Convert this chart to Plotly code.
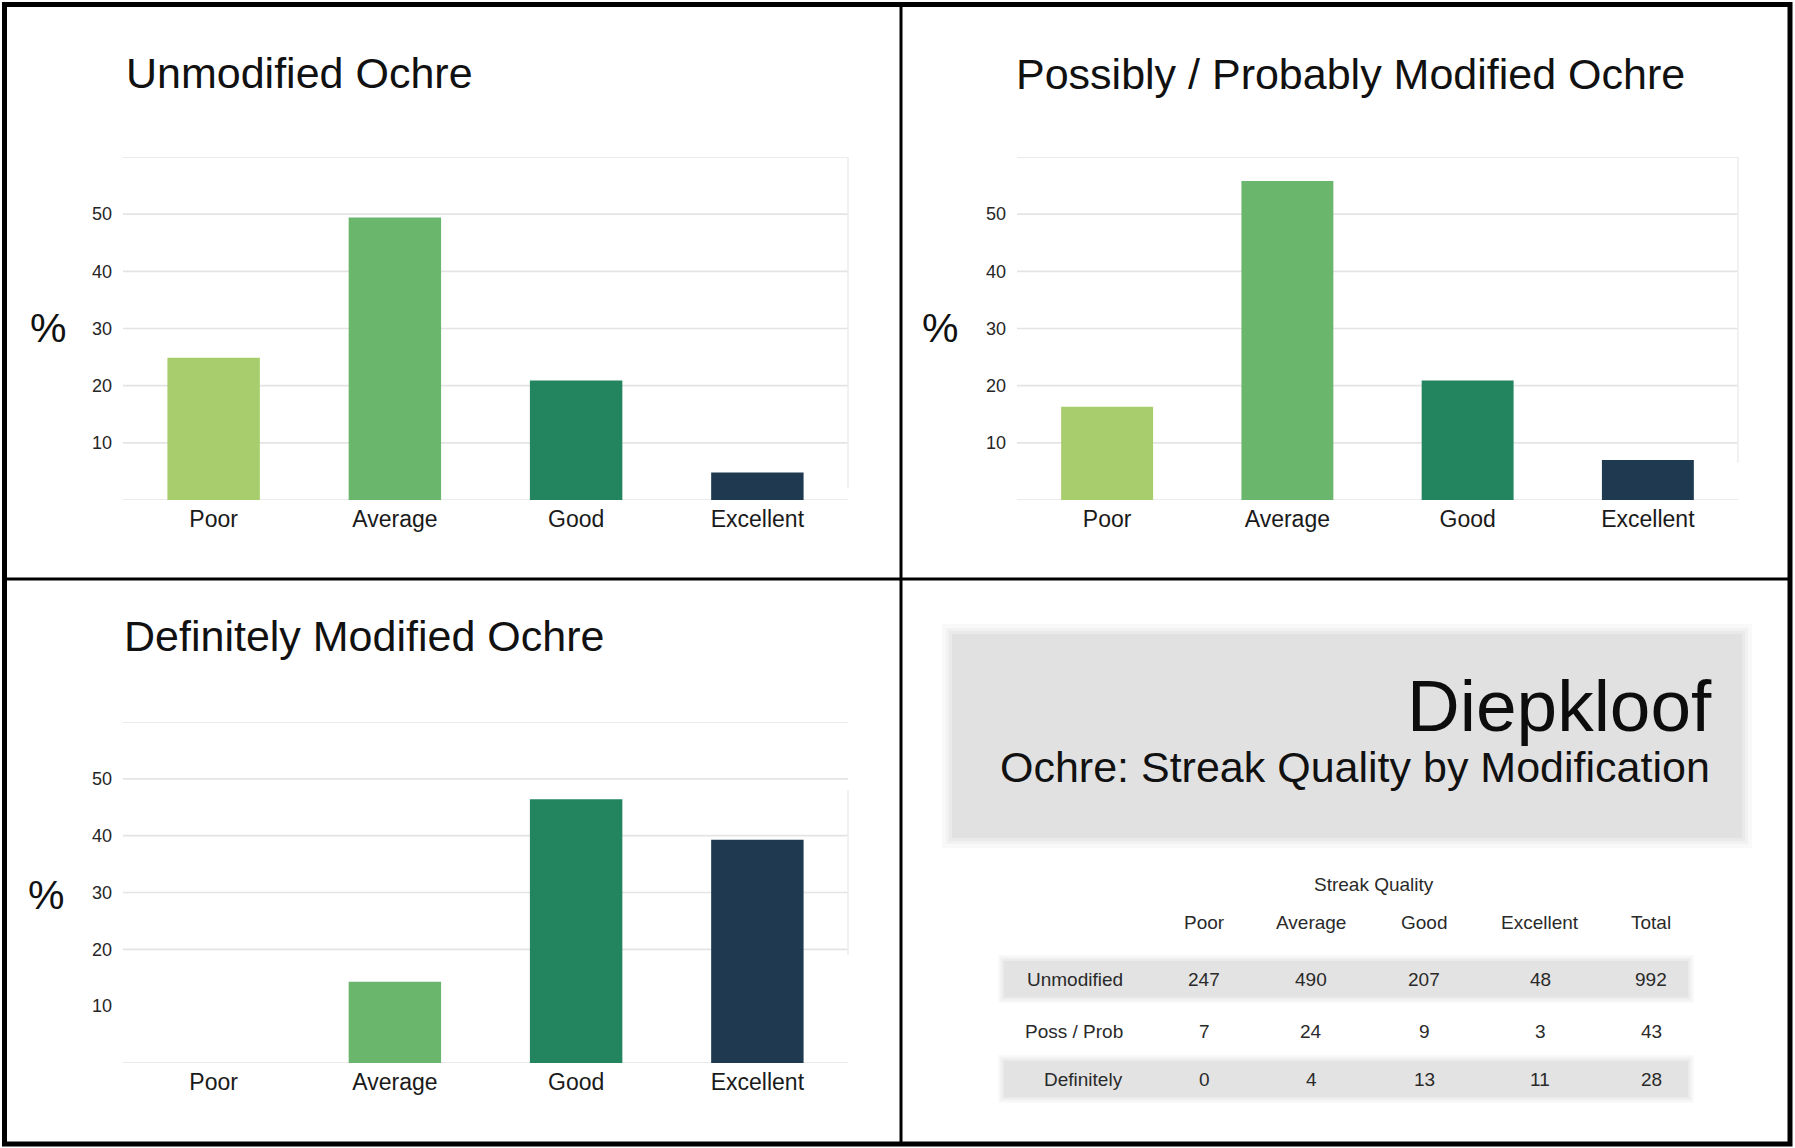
import plotly.graph_objects as go

W, H = 1795, 1148

# ---- data -------------------------------------------------------------
categories = ["Poor", "Average", "Good", "Excellent"]

# percentage of pieces per streak-quality class
unmodified_pct = [24.9, 49.4, 20.9, 4.8]
possible_pct = [16.3, 55.8, 20.9, 7.0]
definite_pct = [0.0, 14.3, 46.4, 39.3]

y_tick_vals = [10, 20, 30, 40, 50]
y_tick_text = ["10", "20", "30", "40", "50"]

# counts table
table_title = "Streak Quality"
table_cols = ["Poor", "Average", "Good", "Excellent", "Total"]
table_rows = ["Unmodified", "Poss / Prob", "Definitely"]
unmodified_counts = [247, 490, 207, 48, 992]
possible_counts = [7, 24, 9, 3, 43]
definite_counts = [0, 4, 13, 11, 28]

# ---- styling ----------------------------------------------------------
bar_colors = ["#a8cd6d", "#6bb66d", "#22855f", "#1f3a50"]
FONT = "Liberation Sans"
GRID = "#e4e4e4"
TEXT = "#1a1a1a"
TABLE_TEXT = "#2a2a2a"


def px(x):
    return x / W


def py(y):
    return 1 - y / H


panels = [
    dict(values=unmodified_pct, title="Unmodified Ochre",
         xdom=(123, 848), ydom=(157, 500), title_xy=(124, 73),
         pct_xy=(48, 30), grid=[0, 10, 20, 30, 40, 50, 60], edge=(2, 60)),
    dict(values=possible_pct, title="Possibly / Probably Modified Ochre",
         xdom=(1017, 1738), ydom=(157, 500), title_xy=(1014, 74),
         pct_xy=(940, 30), grid=[0, 10, 20, 30, 40, 50, 60], edge=(6.5, 60)),
    dict(values=definite_pct, title="Definitely Modified Ochre",
         xdom=(123, 848), ydom=(722, 1063), title_xy=(122, 636),
         pct_xy=(46, 29.5), grid=[0, 20, 30, 40, 50, 60], edge=(19, 48)),
]

fig = go.Figure()
shapes = []
annotations = []
layout_axes = {}

for i, p in enumerate(panels, start=1):
    sfx = "" if i == 1 else str(i)
    xa, ya = f"x{sfx}", f"y{sfx}"

    fig.add_trace(go.Bar(
        x=categories, y=p["values"], xaxis=xa, yaxis=ya,
        marker=dict(color=bar_colors, line=dict(width=0)),
        width=0.51, hoverinfo="x+y",
    ))

    layout_axes[f"xaxis{sfx}"] = dict(
        domain=[px(p["xdom"][0]), px(p["xdom"][1])], anchor=ya,
        range=[-0.5, 3.5], type="category", categoryorder="array",
        categoryarray=categories, showgrid=False, zeroline=False,
        showline=False, ticks="", ticklabelstandoff=3,
        tickfont=dict(family=FONT, size=23, color=TEXT), fixedrange=True,
    )
    layout_axes[f"yaxis{sfx}"] = dict(
        domain=[py(p["ydom"][1]), py(p["ydom"][0])], anchor=xa,
        range=[0, 60], tickvals=y_tick_vals, ticktext=y_tick_text,
        showgrid=False, zeroline=False, showline=False, ticks="",
        ticklabelstandoff=10,
        tickfont=dict(family=FONT, size=18, color="#262626"), fixedrange=True,
    )

    # horizontal gridlines
    for g in p["grid"]:
        shapes.append(dict(
            type="line", xref=f"{xa} domain", yref=ya, x0=0, x1=1, y0=g, y1=g,
            line=dict(color=GRID, width=1.6), layer="below",
        ))
    # faint right-hand frame line of the plot area
    shapes.append(dict(
        type="line", xref=f"{xa} domain", yref=ya, x0=1, x1=1,
        y0=p["edge"][0], y1=p["edge"][1],
        line=dict(color="#ececec", width=1.5), layer="below",
    ))

    annotations.append(dict(
        text=p["title"], xref="paper", yref="paper",
        x=px(p["title_xy"][0]), y=py(p["title_xy"][1]),
        xanchor="left", yanchor="middle", showarrow=False,
        font=dict(family=FONT, size=43, color="#111111"),
    ))
    annotations.append(dict(
        text="%", xref="paper", yref=ya,
        x=px(p["pct_xy"][0]), y=p["pct_xy"][1],
        xanchor="center", yanchor="middle", showarrow=False,
        font=dict(family=FONT, size=41, color="#111111"),
    ))


def soft_rect(x0, y0, x1, y1, color_rgb, spread=(10, 6, 3)):
    """Grey panel with a softened edge built from stacked translucent layers."""
    out = []
    for s, a in zip(spread, (0.2, 0.3, 0.45)):
        out.append(dict(
            type="rect", xref="paper", yref="paper",
            x0=px(x0 - s), x1=px(x1 + s), y0=py(y1 + s), y1=py(y0 - s),
            fillcolor=f"rgba({color_rgb},{a})", line=dict(width=0), layer="below",
        ))
    out.append(dict(
        type="rect", xref="paper", yref="paper",
        x0=px(x0), x1=px(x1), y0=py(y1), y1=py(y0),
        fillcolor=f"rgb({color_rgb})", line=dict(width=0), layer="below",
    ))
    return out


# ---- title block ------------------------------------------------------
shapes += soft_rect(952, 634, 1742, 838, "225,225,225")
annotations.append(dict(
    text="Diepkloof", xref="paper", yref="paper", x=px(1714), y=py(705),
    xanchor="right", yanchor="middle", showarrow=False,
    font=dict(family=FONT, size=73, color="#0d0d0d"),
))
annotations.append(dict(
    text="Ochre: Streak Quality by Modification", xref="paper", yref="paper",
    x=px(1712), y=py(767), xanchor="right", yanchor="middle", showarrow=False,
    font=dict(family=FONT, size=43, color="#111111"),
))

# ---- counts table -----------------------------------------------------
col_x = [1204, 1311, 1424, 1540, 1651]
row_y = [979, 1031, 1079]
header_y = 922
label_right = 1125
band_rows = [0, 2]

for r in band_rows:
    shapes += soft_rect(1004, row_y[r] - 18, 1688, row_y[r] + 18,
                        "227,227,227", spread=(6, 4, 2))

annotations.append(dict(
    text=table_title, xref="paper", yref="paper", x=px(1374), y=py(884),
    xanchor="center", yanchor="middle", showarrow=False,
    font=dict(family=FONT, size=19, color=TABLE_TEXT),
))
for cx, name in zip(col_x, table_cols):
    annotations.append(dict(
        text=name, xref="paper", yref="paper", x=px(cx), y=py(header_y),
        xanchor="center", yanchor="middle", showarrow=False,
        font=dict(family=FONT, size=19, color=TABLE_TEXT),
    ))
for ry, name, counts in zip(row_y, table_rows,
                            [unmodified_counts, possible_counts, definite_counts]):
    annotations.append(dict(
        text=name, xref="paper", yref="paper", x=px(label_right), y=py(ry),
        xanchor="right", yanchor="middle", showarrow=False,
        font=dict(family=FONT, size=19, color=TABLE_TEXT),
    ))
    for cx, v in zip(col_x, counts):
        annotations.append(dict(
            text=str(v), xref="paper", yref="paper", x=px(cx), y=py(ry),
            xanchor="center", yanchor="middle", showarrow=False,
            font=dict(family=FONT, size=19, color=TABLE_TEXT),
        ))

# ---- panel frame ------------------------------------------------------
shapes.append(dict(
    type="rect", xref="paper", yref="paper",
    x0=px(4.5), x1=px(1790), y0=py(1144), y1=py(4.5),
    line=dict(color="#000000", width=5), fillcolor="rgba(0,0,0,0)", layer="above",
))
shapes.append(dict(
    type="line", xref="paper", yref="paper",
    x0=px(901), x1=px(901), y0=py(1144), y1=py(4.5),
    line=dict(color="#000000", width=3), layer="above",
))
shapes.append(dict(
    type="line", xref="paper", yref="paper",
    x0=px(4.5), x1=px(1790), y0=py(579), y1=py(579),
    line=dict(color="#000000", width=3), layer="above",
))

fig.update_layout(
    width=W, height=H, margin=dict(l=0, r=0, t=0, b=0),
    paper_bgcolor="white", plot_bgcolor="rgba(0,0,0,0)",
    showlegend=False, bargap=0.49,
    shapes=shapes, annotations=annotations,
    font=dict(family=FONT),
    **layout_axes,
)

fig.write_html("out.html", config={"displayModeBar": False})
